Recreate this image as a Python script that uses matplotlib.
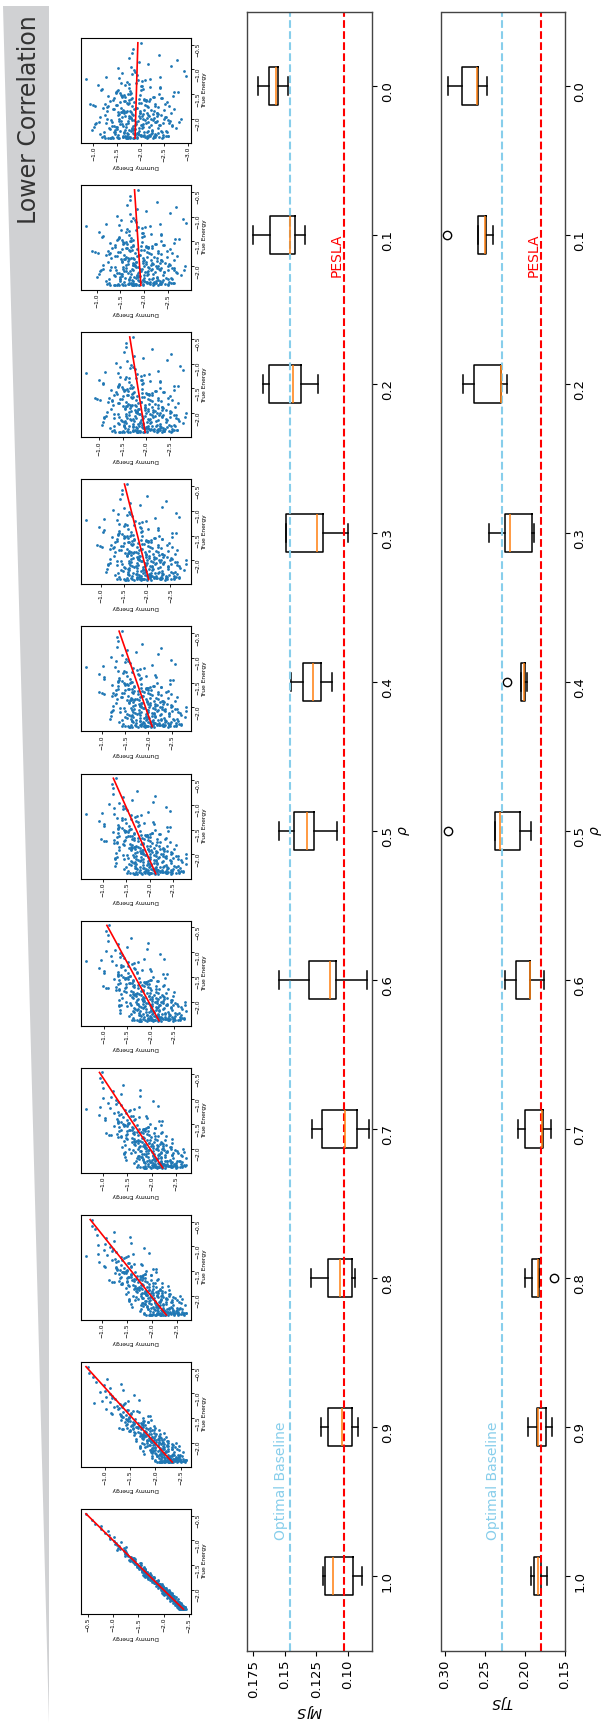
import numpy as np
import matplotlib
matplotlib.use("Agg")
import matplotlib.pyplot as plt
from matplotlib.patches import Polygon
from matplotlib.transforms import offset_copy

# correlation levels (one scatter panel + one box per level)
rho = [0.0, 0.1, 0.2, 0.3, 0.4, 0.5, 0.6, 0.7, 0.8, 0.9, 1.0]
rho_labels = ["0.0", "0.1", "0.2", "0.3", "0.4", "0.5", "0.6", "0.7", "0.8", "0.9", "1.0"]

# MJS box statistics
mjs_whishi = [0.1715, 0.1750, 0.1670, 0.1490, 0.1455, 0.1544, 0.1544, 0.1286, 0.1294, 0.1209, 0.1198]
mjs_q3 = [0.1624, 0.1619, 0.1624, 0.1490, 0.1353, 0.1428, 0.1305, 0.1206, 0.1160, 0.1158, 0.1179]
mjs_med = [0.1570, 0.1463, 0.1436, 0.1241, 0.1278, 0.1327, 0.1139, 0.1018, 0.1059, 0.1045, 0.1120]
mjs_q1 = [0.1554, 0.1423, 0.1372, 0.1195, 0.1211, 0.1270, 0.1095, 0.0930, 0.0965, 0.0967, 0.0957]
mjs_whislo = [0.1474, 0.1340, 0.1238, 0.0994, 0.1123, 0.1083, 0.0844, 0.0831, 0.0941, 0.0922, 0.0890]
mjs_fliers = [[], [], [], [], [], [], [], [], [], [], []]
mjs_optimal = 0.1463
mjs_pesla = 0.1032

# TJS box statistics
tjs_whishi = [0.2958, 0.2587, 0.2777, 0.2448, 0.2048, 0.2364, 0.2250, 0.2086, 0.1994, 0.1960, 0.1922]
tjs_q3 = [0.2781, 0.2587, 0.2638, 0.2250, 0.2048, 0.2364, 0.2107, 0.1998, 0.1910, 0.1842, 0.1884]
tjs_med = [0.2591, 0.2490, 0.2301, 0.2187, 0.2010, 0.2309, 0.1931, 0.1779, 0.1838, 0.1829, 0.1834]
tjs_q1 = [0.2583, 0.2482, 0.2297, 0.1910, 0.1998, 0.2053, 0.1927, 0.1766, 0.1825, 0.1733, 0.1800]
tjs_whislo = [0.2465, 0.2394, 0.2225, 0.1884, 0.1964, 0.1922, 0.1758, 0.1669, 0.1825, 0.1653, 0.1716]
tjs_fliers = [[], [0.2966], [], [], [0.2221], [0.2958], [], [], [0.1636], [], []]
tjs_optimal = 0.2284
tjs_pesla = 0.1796

# true energies of the sample (estimated from the panels)
true_energy = [
    -2.31, -1.87, -2.05, -1.52, -2.38, -1.64, -2.12, -0.93, -1.98, -2.27, -1.71, -2.36, -1.45, -2.02, -1.83, -2.19, -1.21, -2.34, -1.58, -2.08,
    -1.76, -2.25, -1.39, -2.11, -2.37, -1.92, -1.67, -2.29, -1.04, -2.14, -1.81, -2.39, -1.55, -1.96, -2.22, -1.33, -2.06, -1.73, -2.33, -0.71,
    -2.17, -1.62, -2.35, -1.89, -1.48, -2.28, -2.01, -1.78, -2.38, -1.15, -2.09, -1.69, -2.24, -1.94, -1.57, -2.32, -1.85, -2.13, -1.27, -2.36,
    -1.99, -2.21, -1.74, -0.58, -2.37, -1.61, -2.04, -2.30, -1.43, -1.91, -2.16, -1.80, -2.39, -1.36, -2.07, -1.66, -2.26, -1.95, -1.11, -2.34,
    -1.53, -2.18, -1.86, -2.35, -1.72, -2.03, -1.29, -2.23, -1.97, -2.38, -1.60, -2.10, -0.84, -1.84, -2.31, -1.49, -2.00, -2.27, -1.68, -2.15,
    -2.36, -1.41, -1.93, -2.20, -1.77, -2.33, -1.06, -2.07, -1.63, -2.39, -1.88, -2.12, -1.51, -2.29, -1.98, -1.19, -2.25, -1.70, -2.37, -1.90,
    -2.02, -1.34, -2.30, -1.82, -2.14, -0.98, -2.35, -1.59, -2.05, -1.75, -2.38, -1.46, -2.19, -1.94, -2.26, -1.65, -1.24, -2.09, -2.34, -1.79,
    -1.56, -2.22, -2.38, -1.89, -1.38, -2.11, -1.73, -2.32, -0.66, -2.00, -1.62, -2.24, -1.97, -2.36, -1.44, -2.06, -1.83, -1.13, -2.28, -2.17,
    -1.92, -2.37, -1.70, -2.13, -1.50, -2.31, -1.86, -2.04, -1.31, -2.39, -1.64, -2.20, -1.99, -0.89, -2.35, -1.78, -2.08, -1.57, -2.27, -1.95,
    -2.33, -1.67, -2.01, -1.42, -2.25, -1.84, -2.38, -1.18, -2.10, -1.74, -2.30, -1.91, -1.53, -2.16, -2.36, -1.61, -1.02, -2.23, -1.88, -2.05,
    -1.47, -2.34, -1.96, -2.19, -1.72, -2.39, -1.26, -2.07, -1.81, -2.29, -0.77, -1.59, -2.14, -2.37, -1.90, -1.37, -2.03, -2.32, -1.66, -2.21,
    -2.12, -1.80, -2.35, -1.55, -2.00, -1.09, -2.26, -1.93, -2.38, -1.69, -2.17, -1.40, -1.85, -2.31, -2.09, -1.63, -2.36, -1.22, -1.98, -2.24,
    -1.76, -2.28, -1.50, -2.39, -2.02, -1.87, -0.95, -2.15, -1.68, -2.33, -1.97, -1.32, -2.22, -2.37, -1.58, -2.06, -1.82, -2.30, -1.45, -2.11,
    -2.38, -1.71, -2.18, -1.94, -1.16, -2.35, -1.60, -2.04, -2.27, -1.84, -0.46, -2.13, -1.52, -2.39, -1.90, -2.23, -1.35, -2.01, -1.77, -2.32,
    -1.99, -2.36, -1.64, -2.08, -1.28, -2.25, -1.88, -2.37, -1.48, -2.16, -1.73, -2.29, -1.07, -1.95, -2.34, -1.56, -2.10, -1.83, -2.38, -1.69,
    -2.20, -1.42, -2.03, -2.35, -1.79, -1.20, -2.31, -1.92, -2.12, -1.62, -2.39, -0.81, -1.86, -2.26, -1.54, -2.06, -2.37, -1.74, -1.97, -2.18,
]

# residual of the dummy energy, in units of its spread (estimated from the rho=0 panel)
dummy_residual = [
    0.42, -1.13, 0.87, -0.25, 1.64, -0.71, 0.05, -1.86, 0.33, 1.12, -0.48, 0.69, -2.21, 0.18, -0.94, 1.41, -0.12, 0.56, -1.37, 2.08,
    -0.63, 0.27, 1.78, -0.39, -1.02, 0.91, -0.16, 0.48, -2.54, 1.23, -0.81, 0.11, 0.74, -1.55, 0.36, -0.29, 1.96, -0.57, 0.02, -1.21,
    1.05, -0.44, -1.68, 0.61, 0.23, -0.88, 1.52, -0.07, 0.95, -1.29, 0.39, 2.41, -0.66, -0.19, 1.17, -1.45, 0.52, -0.33, 0.80, -0.98,
    -0.21, 1.33, -1.76, 0.14, 0.67, -0.52, -1.11, 1.87, 0.29, -0.37, 0.98, -2.03, 0.45, -0.74, 1.26, 0.08, -1.41, 0.59, -0.05, 1.69,
    0.71, -1.19, 0.24, -0.61, 2.27, -0.90, 0.37, 1.08, -1.60, 0.12, -0.43, 0.85, -0.15, 1.49, -0.99, 0.31, -2.37, 0.64, -0.28, 1.15,
    -0.47, 0.93, -1.33, 0.20, 1.71, -0.69, 0.03, -1.05, 0.55, 1.38, -0.24, -1.89, 0.76, 0.16, -0.58, 2.62, -0.85, 0.41, -1.24, 0.89,
    1.29, -0.35, 0.06, -1.50, 0.66, 0.92, -0.77, 0.26, -0.11, -1.16, 0.49, 1.02, -2.11, 0.35, -0.60, 0.83, -0.31, 1.59, -1.72, 0.10,
    -0.92, 0.58, 1.44, -0.20, -1.30, 0.73, 2.15, -0.46, 0.17, -0.83, 1.19, -1.58, 0.32, -0.06, 0.97, -1.02, 0.44, -2.65, 0.62, -0.38,
    0.15, -0.67, 1.61, -1.26, 0.40, -0.13, 0.94, -1.81, 0.57, 1.31, -0.54, 0.07, -0.96, -0.63, -0.27, 0.78, -1.45, 0.22, 1.10, -0.70,
    -1.07, 0.34, -0.41, 1.83, -0.18, 0.60, -1.39, 0.88, -0.02, 1.47, -0.80, 0.19, -1.94, 0.50, 1.24, -0.55, 0.09, 2.31, -1.14, 0.43,
    0.81, -1.57, 0.28, -0.32, 1.06, -0.89, 0.47, -2.29, 0.68, -0.10, 0.37, -0.73, 0.13, 1.80, -1.20, 0.38, -0.50, 0.92, -1.66, 0.04,
    -0.26, 1.14, -0.97, 0.54, -1.48, 0.21, 1.66, -0.64, 0.30, -1.04, 2.19, -0.36, 0.77, -0.14, -1.78, 0.63, 1.01, -0.49, 0.25, -1.32,
    1.53, -0.08, -1.22, 0.86, 0.10, -0.62, 0.27, -1.91, 0.46, -0.30, 0.70, 1.98, -0.87, 0.35, -1.35, 0.01, -0.45, 1.09, -2.00, 0.53,
    -0.59, 0.96, 0.19, -1.10, 1.58, -0.40, -0.17, 0.75, -1.63, 0.32, -0.28, -0.78, 0.60, 1.20, -0.93, 0.14, -1.28, 0.87, -0.04, -0.23,
    0.26, -1.42, 1.35, -0.56, -0.01, 0.82, -1.84, 0.51, 1.04, -0.68, 0.18, -1.17, 0.74, -0.34, 0.65, -0.95, 2.12, -0.22, 0.40, -1.53,
    0.97, -0.28, -1.71, 0.44, 1.22, -0.76, 0.09, 1.63, -1.25, 0.37, -0.09, -2.18, 0.72, -0.42, 1.45, -0.65, 0.29, -1.00, 1.90, -0.16,
]
dummy_spread = 0.40

W, H = 605, 1723
fig = plt.figure(figsize=(W / 100, H / 100), dpi=100)


def px_axes(x0, y0, x1, y1):
    # pixel box (top-left origin) -> figure fraction
    return [x0 / W, 1 - y1 / H, (x1 - x0) / W, (y1 - y0) / H]


# grey wedge with label
wedge = Polygon([(3.3 / W, 1 - 6 / H), (49 / W, 1 - 6 / H), (49 / W, 0)],
                closed=True, transform=fig.transFigure, facecolor="#d0d1d3", edgecolor="none")
fig.add_artist(wedge)
fig.text(29.5 / W, 1 - 120 / H, "Lower Correlation", rotation=90, ha="center", va="center",
         fontsize=17, color="#333333")

# scatter panels, rho=0 at the top
T = np.array(true_energy)
Z = np.array(dummy_residual)
mT = T.mean()
for k, r in enumerate(rho):
    top = 38 + k * 147.1
    ax = fig.add_axes(px_axes(81, top, 191, top + 105))
    dummy = mT + r * (T - mT) + np.sqrt(1 - r ** 2 + 0.012) * dummy_spread * Z
    ax.scatter(dummy, T, s=4, color="#1f77b4", linewidths=0)
    slope, icpt = np.polyfit(T, dummy, 1)
    t_line = np.array([T.min(), T.max()])
    ax.plot(icpt + slope * t_line, t_line, color="red", lw=1.2)
    ax.invert_xaxis()
    ax.yaxis.tick_right()
    ax.yaxis.set_label_position("right")
    ax.set_ylabel("True Energy", fontsize=4.3, labelpad=1.5)
    ax.set_xlabel("Dummy Energy", fontsize=4.3, labelpad=1.5, rotation=180)
    ax.tick_params(labelsize=4.3, length=1.8, pad=1, width=0.6, labelrotation=90)
    for s in ax.spines.values():
        s.set_linewidth(0.8)


def box_panel(x0, x1, whislo, q1, med, q3, whishi, fliers, optimal, pesla, xlim, label, ticks):
    ax = fig.add_axes(px_axes(x0, 11.5, x1, 1650.5))
    stats = [dict(whislo=a, q1=b, med=c, q3=d, whishi=e, fliers=f)
             for a, b, c, d, e, f in zip(whislo, q1, med, q3, whishi, fliers)]
    ax.bxp(stats, positions=rho, widths=0.025, orientation="horizontal", manage_ticks=False,
           boxprops=dict(color="black", lw=1.1), whiskerprops=dict(color="black", lw=1.1),
           capprops=dict(color="black", lw=1.1), medianprops=dict(color="#ff7f0e", lw=1.1),
           flierprops=dict(marker="o", markerfacecolor="none", markeredgecolor="black", markersize=6))
    ax.axvline(optimal, color="skyblue", ls="--", lw=1.5)
    ax.axvline(pesla, color="red", ls="--", lw=1.5)
    ax.text(optimal, 0.976, "Optimal Baseline", color="skyblue", fontsize=10, rotation=90,
            rotation_mode="anchor", ha="left", va="baseline",
            transform=offset_copy(ax.transData, fig=fig, x=-5, y=0, units="dots"))
    ax.text(pesla, 0.128, "PESLA", color="red", fontsize=10, rotation=90,
            rotation_mode="anchor", ha="left", va="baseline",
            transform=offset_copy(ax.transData, fig=fig, x=-3.5, y=0, units="dots"))
    ax.set_xlim(*xlim)
    ax.set_ylim(1.05, -0.05)
    ax.set_xticks(ticks)
    ax.set_xticklabels([f"{t:.3f}".rstrip("0") if len(f"{t:.3f}".rstrip("0")) > 3 else f"{t:.2f}" for t in ticks])
    ax.set_yticks(rho)
    ax.set_yticklabels(rho_labels)
    ax.yaxis.tick_right()
    ax.yaxis.set_label_position("right")
    ax.set_ylabel(r"$\rho$", fontsize=10, labelpad=2)
    ax.set_xlabel(label, fontsize=10, rotation=180, labelpad=3)
    ax.tick_params(labelsize=9.5, labelrotation=90, length=3.5, pad=3)
    for s in ax.spines.values():
        s.set_color("#444444")
        s.set_linewidth(1.0)
    return ax


box_panel(247, 372, mjs_whislo, mjs_q1, mjs_med, mjs_q3, mjs_whishi, mjs_fliers,
          mjs_optimal, mjs_pesla, (0.1801, 0.0807), r"$MJS$", [0.175, 0.150, 0.125, 0.100])
box_panel(441.5, 564.5, tjs_whislo, tjs_q1, tjs_med, tjs_q3, tjs_whishi, tjs_fliers,
          tjs_optimal, tjs_pesla, (0.304, 0.15), r"$TJS$", [0.30, 0.25, 0.20, 0.15])

fig.savefig("out.png", dpi=100)
